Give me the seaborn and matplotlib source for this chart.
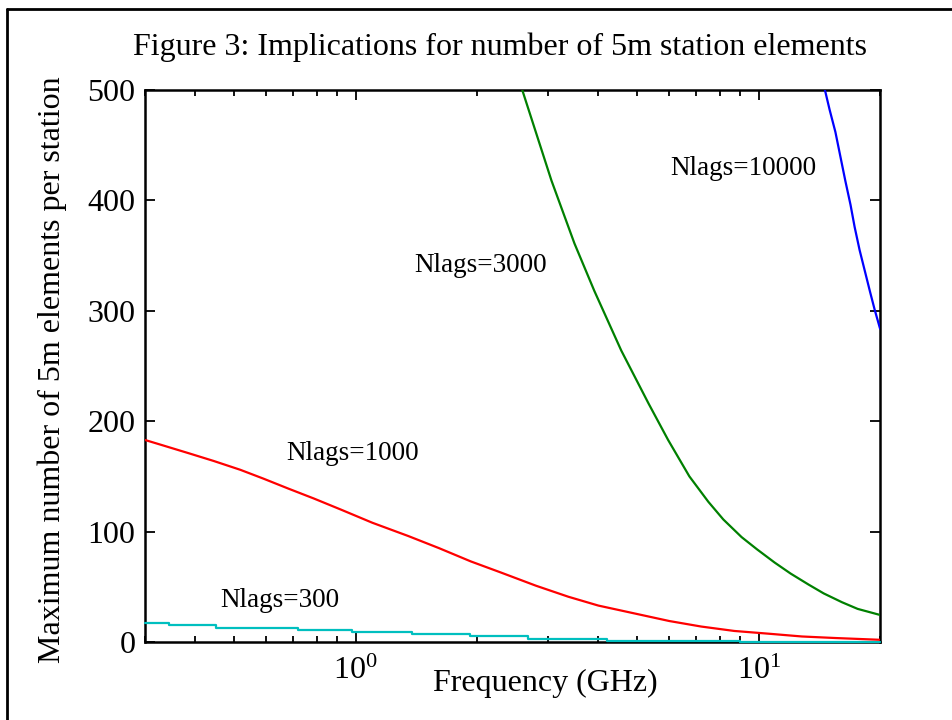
import matplotlib
matplotlib.use("Agg")
import matplotlib.pyplot as plt
from matplotlib.lines import Line2D
from matplotlib.ticker import FixedLocator, NullFormatter
import seaborn as sns
import pandas as pd

# curves (frequency in GHz, max number of elements)
freq_300 = [0.30, 0.345, 0.45, 0.72, 0.98, 1.38, 1.92, 2.67, 4.2, 9.0, 20.0]
n_300 = [17, 15, 13, 11, 9, 7, 5, 3, 1, 0, 0]

freq_1000 = [0.30, 0.333, 0.385, 0.444, 0.517, 0.59, 0.68, 0.787, 0.918, 1.1, 1.35,
             1.61, 1.93, 2.29, 2.8, 3.37, 4.0, 4.9, 6.0, 7.2, 8.7, 10.6, 12.8, 15.5, 20.0]
n_1000 = [183, 178, 171, 164, 156, 148, 139, 130, 120, 108, 96,
          85, 73, 63, 51, 41, 33, 26, 19, 14, 10, 7.5, 5, 3.6, 2]

freq_3000 = [2.59, 3.06, 3.49, 3.91, 4.56, 5.33, 5.96, 6.73, 7.5, 8.17, 9.07, 9.9,
             10.95, 12.0, 13.3, 14.5, 16.1, 17.6, 20.0]
n_3000 = [500, 418, 361, 318, 264, 216, 183, 150, 127, 111, 95, 84,
          72, 62, 52, 44, 36, 30, 24.5]

freq_10000 = [14.6, 15.0, 15.5, 16.4, 16.9, 17.3, 17.8, 18.4, 18.9, 19.4, 20.0]
n_10000 = [500, 482, 462, 418, 396, 376, 355, 334, 317, 301, 284]

labels = ["Nlags=300", "Nlags=1000", "Nlags=3000", "Nlags=10000"]
label_pos = [(0.462, 38), (0.674, 171), (1.397, 341), (6.03, 429)]
colors = ["#00bfbf", "#ff0000", "#008000", "#0000ff"]

sns.set_style("ticks")
plt.rcParams["font.family"] = ["Liberation Serif", "DejaVu Serif"]
plt.rcParams["mathtext.fontset"] = "custom"
plt.rcParams["mathtext.rm"] = "Liberation Serif"
plt.rcParams["text.color"] = "black"
plt.rcParams["xtick.color"] = "black"
plt.rcParams["ytick.color"] = "black"
plt.rcParams["axes.edgecolor"] = "black"

fig = plt.figure(figsize=(9.52, 7.2), dpi=100)
ax = fig.add_axes([145 / 952, 1 - 642 / 720, 735 / 952, 552 / 720])

series = [(freq_300, n_300), (freq_1000, n_1000), (freq_3000, n_3000), (freq_10000, n_10000)]
for i, (f, n) in enumerate(series):
    df = pd.DataFrame({"f": f, "n": n})
    kw = {"drawstyle": "steps-post"} if i == 0 else {}
    sns.lineplot(data=df, x="f", y="n", ax=ax, color=colors[i], lw=1.6,
                 estimator=None, sort=False, zorder=3, clip_on=(i != 0), **kw)

for lab, (x, y) in zip(labels, label_pos):
    ax.text(x, y, lab, fontsize=19.5, ha="left", va="center")

ax.set_xscale("log")
ax.set_xlim(0.3, 20)
ax.set_ylim(0, 500)
ax.set_xticks([1, 10])
ax.set_xticklabels([r"$\mathregular{10^{0}}$", r"$\mathregular{10^{1}}$"])
ax.xaxis.set_minor_locator(FixedLocator([0.3, 0.4, 0.5, 0.6, 0.7, 0.8, 0.9,
                                         2, 3, 4, 5, 6, 7, 8, 9, 20]))
ax.xaxis.set_minor_formatter(NullFormatter())
ax.set_yticks([0, 100, 200, 300, 400, 500])
ax.set_xlabel("")
ax.set_ylabel("")

ax.tick_params(which="both", direction="in", top=True, right=True, labelsize=23, width=1.3)
ax.tick_params(which="major", length=7)
ax.tick_params(which="minor", length=4)
ax.tick_params(axis="x", pad=11)
ax.tick_params(axis="y", pad=7)
for s in ax.spines.values():
    s.set_linewidth(1.8)
    s.set_visible(True)

fig.text(500 / 952, 1 - 47 / 720, "Figure 3: Implications for number of 5m station elements",
         fontsize=23, ha="center", va="center")
fig.text(545 / 952, 1 - 683 / 720, "Frequency (GHz)", fontsize=23, ha="center", va="center")
fig.text(52 / 952, 1 - 370 / 720, "Maximum number of 5m elements per station",
         fontsize=23, ha="center", va="center", rotation=90)

# partial frame around the figure
fig.add_artist(Line2D([7 / 952, 1], [1 - 9 / 720, 1 - 9 / 720], color="black", lw=2,
                      transform=fig.transFigure))
fig.add_artist(Line2D([7 / 952, 7 / 952], [0, 1 - 9 / 720], color="black", lw=2,
                      transform=fig.transFigure))

fig.savefig("out.png", dpi=100)
